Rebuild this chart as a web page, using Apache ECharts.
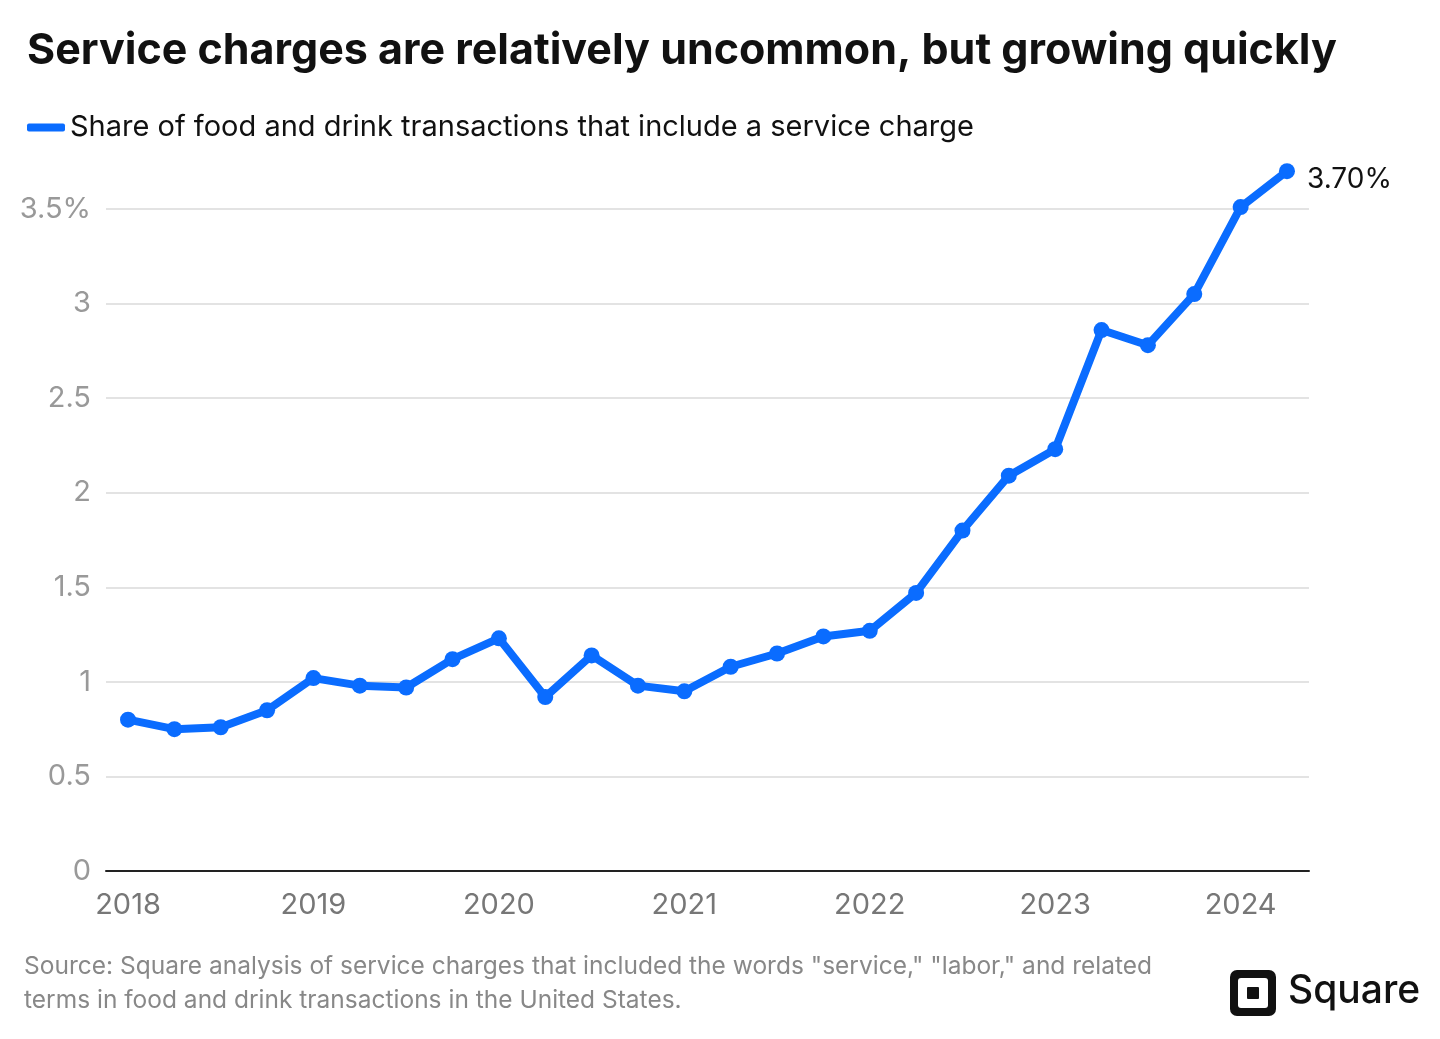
<!DOCTYPE html>
<html>
<head>
<meta charset="utf-8">
<script src="https://cdn.jsdelivr.net/npm/echarts@6/dist/echarts.min.js"></script>
<style>
html,body{margin:0;padding:0;background:#fff;}
#chart{width:1440px;height:1039px;}
</style>
</head>
<body>
<div id="chart"></div>
<script>
const quarters = ['2018 Q1','2018 Q2','2018 Q3','2018 Q4','2019 Q1','2019 Q2','2019 Q3','2019 Q4','2020 Q1','2020 Q2','2020 Q3','2020 Q4','2021 Q1','2021 Q2','2021 Q3','2021 Q4','2022 Q1','2022 Q2','2022 Q3','2022 Q4','2023 Q1','2023 Q2','2023 Q3','2023 Q4','2024 Q1','2024 Q2'];
const shareValues = [0.80,0.75,0.76,0.85,1.02,0.98,0.97,1.12,1.23,0.92,1.14,0.98,0.95,1.08,1.15,1.24,1.27,1.47,1.80,2.09,2.23,2.86,2.78,3.05,3.51,3.70];
const yearTicks = [0,4,8,12,16,20,24];
const yearLabels = ['2018','2019','2020','2021','2022','2023','2024'];
const seriesName = 'Share of food and drink transactions that include a service charge';

const FONT = 'Inter, "Noto Sans", sans-serif';
const BLUE = '#0a6cff';
const chart = echarts.init(document.getElementById('chart'));
const data = shareValues.map((v, i) => {
  const p = { value: [i, v], name: quarters[i] };
  if (i === shareValues.length - 1) {
    p.label = { show: true, position: 'right', distance: 12, formatter: v.toFixed(2) + '%', fontSize: 28, color: '#111', fontFamily: FONT, offset: [0, 8] };
  }
  return p;
});
chart.setOption({
  animation: false,
  title: {
    text: 'Service charges are relatively uncommon, but growing quickly',
    left: 22, top: 25,
    textStyle: { fontSize: 43, fontWeight: 'bold', color: '#111', fontFamily: FONT }
  },
  legend: {
    left: 22, top: 108,
    icon: 'roundRect', itemWidth: 38, itemHeight: 8, itemGap: 10,
    textStyle: { fontSize: 29, color: '#111', fontFamily: FONT },
    data: [seriesName]
  },
  grid: { left: 106, right: 131, top: 209, bottom: 168 },
  xAxis: {
    type: 'value', min: -0.475, max: 25.475,
    axisLine: { show: true, onZero: false, lineStyle: { color: '#222', width: 2 } },
    axisTick: { show: false },
    splitLine: { show: false },
    axisLabel: {
      customValues: yearTicks,
      formatter: v => yearLabels[yearTicks.indexOf(Math.round(v))] || '',
      fontSize: 29, color: '#777', fontFamily: FONT, margin: 20
    }
  },
  yAxis: {
    type: 'value', min: 0, max: 3.5, interval: 0.5,
    axisLine: { show: false }, axisTick: { show: false },
    splitLine: { lineStyle: { color: '#e3e3e3', width: 2 } },
    axisLabel: {
      formatter: v => v === 3.5 ? '3.5%' : String(v),
      fontSize: 29, color: '#999', fontFamily: FONT, margin: 15, padding: [6, 0, 0, 0]
    }
  },
  series: [{
    name: seriesName, type: 'line', data: data, clip: false,
    symbol: 'circle', symbolSize: 16,
    lineStyle: { color: BLUE, width: 8 },
    itemStyle: { color: BLUE },
    z: 5
  }],
  graphic: [
    { type: 'text', left: 24, top: 950, style: { text: 'Source: Square analysis of service charges that included the words "service," "labor," and related\nterms in food and drink transactions in the United States.', fontSize: 24.5, lineHeight: 34, fill: '#888', fontFamily: FONT } },
    { type: 'rect', shape: { x: 1230, y: 970, width: 46, height: 46, r: 7 }, style: { fill: '#111' } },
    { type: 'rect', shape: { x: 1238, y: 978, width: 30, height: 30, r: 3 }, style: { fill: '#fff' } },
    { type: 'rect', shape: { x: 1247, y: 987, width: 12, height: 12, r: 1 }, style: { fill: '#111' } },
    { type: 'text', left: 1288, top: 972, style: { text: 'Square', fontSize: 39, fontWeight: 500, fill: '#111', fontFamily: FONT } }
  ]
});
</script>
</body>
</html>
